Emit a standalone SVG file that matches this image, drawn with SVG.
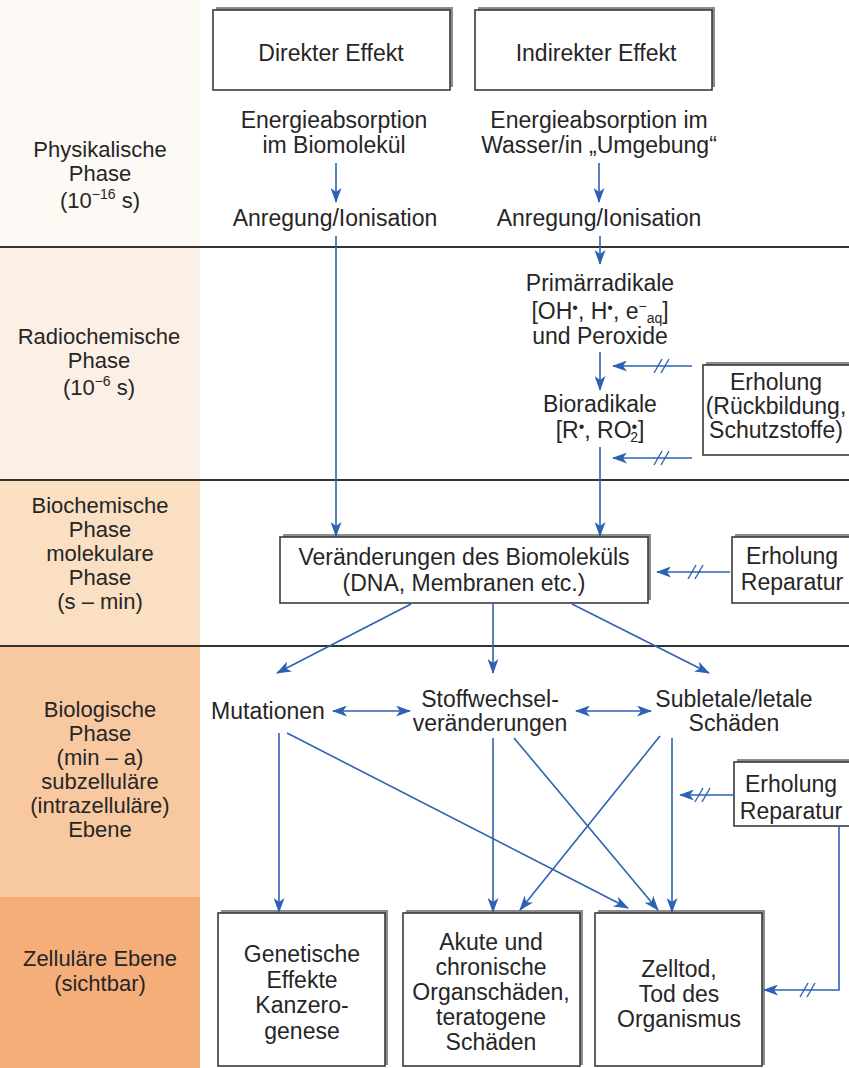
<svg xmlns="http://www.w3.org/2000/svg" width="849" height="1068" viewBox="0 0 849 1068">
<style>
.t{font-family:"Liberation Sans",Arial,sans-serif;font-size:23px;fill:#262626;text-anchor:middle}
.lc{font-size:22px}
.sm{font-size:14px}
.bu{font-size:16px}
.box{fill:#fff;stroke:#3a3a3a;stroke-width:1.6}
.sh{fill:#8c8c8c}
.c{stroke:#2d62b3;stroke-width:1.6;fill:none}
.sl{stroke:#2d62b3;stroke-width:1.4}
.sep{stroke:#333;stroke-width:2}
</style>
<defs>
<marker id="ah" viewBox="0 0 15 11" refX="14" refY="5.5" markerWidth="15" markerHeight="11" markerUnits="userSpaceOnUse" orient="auto-start-reverse">
<path d="M0,0 L15,5.5 L0,11 L4,5.5 z" fill="#2d62b3"/>
</marker>
</defs>
<rect width="849" height="1068" fill="#fff"/>
<g id="phase-column">
<rect x="0" y="0" width="200" height="247" fill="#fdf9f5"/>
<rect x="0" y="247" width="200" height="233" fill="#fcefe5"/>
<rect x="0" y="480" width="200" height="166" fill="#fbdfc2"/>
<rect x="0" y="646" width="200" height="251" fill="#f8c8a0"/>
<rect x="0" y="897" width="200" height="171" fill="#f5ae7a"/>
</g>
<g id="separators">
<line class="sep" x1="0" y1="247" x2="849" y2="247"/>
<line class="sep" x1="0" y1="480" x2="849" y2="480"/>
<line class="sep" x1="0" y1="646" x2="849" y2="646"/>
</g>
<g id="phase-labels">
<text class="t lc" x="100" y="157">Physikalische</text>
<text class="t lc" x="100" y="181">Phase</text>
<text class="t lc" x="100" y="208">(10<tspan class="sm" dy="-9">−16</tspan><tspan dy="9"> s)</tspan></text>
<text class="t lc" x="99" y="344">Radiochemische</text>
<text class="t lc" x="99" y="368">Phase</text>
<text class="t lc" x="99" y="395">(10<tspan class="sm" dy="-9">−6</tspan><tspan dy="9"> s)</tspan></text>
<text class="t lc" x="100" y="513">Biochemische</text>
<text class="t lc" x="100" y="537">Phase</text>
<text class="t lc" x="100" y="561">molekulare</text>
<text class="t lc" x="100" y="585">Phase</text>
<text class="t lc" x="100" y="609">(s – min)</text>
<text class="t lc" x="100" y="717">Biologische</text>
<text class="t lc" x="100" y="741">Phase</text>
<text class="t lc" x="100" y="765">(min – a)</text>
<text class="t lc" x="100" y="789">subzelluläre</text>
<text class="t lc" x="100" y="813">(intrazelluläre)</text>
<text class="t lc" x="100" y="837">Ebene</text>
<text class="t lc" x="100" y="966">Zelluläre Ebene</text>
<text class="t lc" x="100" y="991">(sichtbar)</text>
</g>
<g id="n-direkt">
<rect class="sh" x="216" y="7" width="237" height="80"/>
<rect class="box" x="213" y="10" width="237" height="80"/>
<text class="t" x="331" y="61">Direkter Effekt</text>
</g>
<g id="n-indirekt">
<rect class="sh" x="478" y="7" width="237" height="80"/>
<rect class="box" x="475" y="10" width="237" height="80"/>
<text class="t" x="596" y="61">Indirekter Effekt</text>
</g>
<g id="n-absorb-direkt">
<text class="t" x="334" y="128">Energieabsorption</text>
<text class="t" x="334" y="153">im Biomolekül</text>
</g>
<g id="n-absorb-indirekt">
<text class="t" x="599" y="128">Energieabsorption im</text>
<text class="t" x="599" y="153">Wasser/in „Umgebung“</text>
</g>
<g id="n-anregung-direkt">
<text class="t" x="335" y="226">Anregung/Ionisation</text>
</g>
<g id="n-anregung-indirekt">
<text class="t" x="599" y="226">Anregung/Ionisation</text>
</g>
<g id="n-primaer">
<text class="t" x="600" y="291">Primärradikale</text>
<text class="t" x="600" y="319">[OH<tspan class="bu" dy="-6">•</tspan><tspan dy="6">, H</tspan><tspan class="bu" dy="-6">•</tspan><tspan dy="6">, e</tspan><tspan class="sm" dy="-8">−</tspan><tspan class="sm" dy="12">aq</tspan><tspan dy="-4">]</tspan></text>
<text class="t" x="600" y="344">und Peroxide</text>
</g>
<g id="n-bio">
<text class="t" x="600" y="412">Bioradikale</text>
<text class="t" x="600" y="438">[R<tspan class="bu" dy="-6">•</tspan><tspan dy="6">, RO</tspan><tspan class="bu" dy="-6">•</tspan><tspan class="sm" dx="-7" dy="10">2</tspan><tspan dy="-4">]</tspan></text>
</g>
<g id="n-erholung1">
<rect class="sh" x="706" y="362" width="160" height="90"/>
<rect class="box" x="703" y="365" width="160" height="90"/>
<text class="t" x="776" y="390">Erholung</text>
<text class="t" x="776" y="414">(Rückbildung,</text>
<text class="t" x="776" y="438">Schutzstoffe)</text>
</g>
<g id="n-veraend">
<rect class="sh" x="283" y="534" width="368" height="66"/>
<rect class="box" x="280" y="537" width="368" height="66"/>
<text class="t" x="464" y="565">Veränderungen des Biomoleküls</text>
<text class="t" x="464" y="591">(DNA, Membranen etc.)</text>
</g>
<g id="n-erholung2">
<rect class="sh" x="735" y="534" width="130" height="66"/>
<rect class="box" x="732" y="537" width="130" height="66"/>
<text class="t" x="792" y="564">Erholung</text>
<text class="t" x="792" y="590">Reparatur</text>
</g>
<g id="n-mutationen">
<text class="t" x="268" y="719">Mutationen</text>
</g>
<g id="n-stoffwechsel">
<text class="t" x="490" y="707">Stoffwechsel-</text>
<text class="t" x="490" y="731">veränderungen</text>
</g>
<g id="n-subletal">
<text class="t" x="734" y="707">Subletale/letale</text>
<text class="t" x="734" y="731">Schäden</text>
</g>
<g id="n-erholung3">
<rect class="sh" x="737" y="759" width="130" height="64"/>
<rect class="box" x="734" y="762" width="130" height="64"/>
<text class="t" x="791" y="792">Erholung</text>
<text class="t" x="791" y="819">Reparatur</text>
</g>
<g id="n-genetisch">
<rect class="sh" x="221" y="910" width="167" height="155"/>
<rect class="box" x="218" y="913" width="167" height="153"/>
<text class="t" x="302" y="962">Genetische</text>
<text class="t" x="302" y="988">Effekte</text>
<text class="t" x="302" y="1013">Kanzero-</text>
<text class="t" x="302" y="1039">genese</text>
</g>
<g id="n-akut">
<rect class="sh" x="406" y="910" width="177" height="155"/>
<rect class="box" x="403" y="913" width="177" height="153"/>
<text class="t" x="491" y="950">Akute und</text>
<text class="t" x="491" y="975">chronische</text>
<text class="t" x="491" y="1000">Organschäden,</text>
<text class="t" x="491" y="1025">teratogene</text>
<text class="t" x="491" y="1050">Schäden</text>
</g>
<g id="n-zelltod">
<rect class="sh" x="598" y="910" width="167" height="155"/>
<rect class="box" x="595" y="913" width="167" height="153"/>
<text class="t" x="679" y="977">Zelltod,</text>
<text class="t" x="679" y="1002">Tod des</text>
<text class="t" x="679" y="1027">Organismus</text>
</g>
<g id="connectors">
<line class="c" x1="336" y1="163" x2="336" y2="202" marker-end="url(#ah)"/>
<line class="c" x1="599" y1="163" x2="599" y2="202" marker-end="url(#ah)"/>
<line class="c" x1="336" y1="236" x2="336" y2="536" marker-end="url(#ah)"/>
<line class="c" x1="600" y1="236" x2="600" y2="264" marker-end="url(#ah)"/>
<line class="c" x1="600" y1="352" x2="600" y2="390" marker-end="url(#ah)"/>
<line class="c" x1="600" y1="447" x2="600" y2="536" marker-end="url(#ah)"/>
<line class="c" x1="692" y1="366" x2="613" y2="366" marker-end="url(#ah)"/>
<line class="sl" x1="654" y1="373" x2="662" y2="359"/><line class="sl" x1="661" y1="373" x2="669" y2="359"/>
<line class="c" x1="692" y1="458" x2="613" y2="458" marker-end="url(#ah)"/>
<line class="sl" x1="654" y1="465" x2="662" y2="451"/><line class="sl" x1="661" y1="465" x2="669" y2="451"/>
<line class="c" x1="730" y1="572" x2="657" y2="572" marker-end="url(#ah)"/>
<line class="sl" x1="688" y1="579" x2="696" y2="565"/><line class="sl" x1="695" y1="579" x2="703" y2="565"/>
<line class="c" x1="411" y1="604" x2="277" y2="673" marker-end="url(#ah)"/>
<line class="c" x1="493" y1="604" x2="493" y2="673" marker-end="url(#ah)"/>
<line class="c" x1="572" y1="604" x2="709" y2="673" marker-end="url(#ah)"/>
<line class="c" x1="333" y1="711" x2="410" y2="711" marker-start="url(#ah)" marker-end="url(#ah)"/>
<line class="c" x1="576" y1="711" x2="651" y2="711" marker-start="url(#ah)" marker-end="url(#ah)"/>
<line class="c" x1="279" y1="733" x2="279" y2="912" marker-end="url(#ah)"/>
<line class="c" x1="287" y1="733" x2="628" y2="908" marker-end="url(#ah)"/>
<line class="c" x1="493" y1="738" x2="493" y2="912" marker-end="url(#ah)"/>
<line class="c" x1="514" y1="738" x2="658" y2="910" marker-end="url(#ah)"/>
<line class="c" x1="660" y1="736" x2="520" y2="910" marker-end="url(#ah)"/>
<line class="c" x1="672" y1="738" x2="672" y2="912" marker-end="url(#ah)"/>
<line class="c" x1="733" y1="795" x2="680" y2="795" marker-end="url(#ah)"/>
<line class="sl" x1="695" y1="802" x2="703" y2="788"/><line class="sl" x1="702" y1="802" x2="710" y2="788"/>
<polyline class="c" points="839,826 839,990 764,990" marker-end="url(#ah)"/>
<line class="sl" x1="800" y1="997" x2="808" y2="983"/><line class="sl" x1="807" y1="997" x2="815" y2="983"/>
</g>
</svg>
